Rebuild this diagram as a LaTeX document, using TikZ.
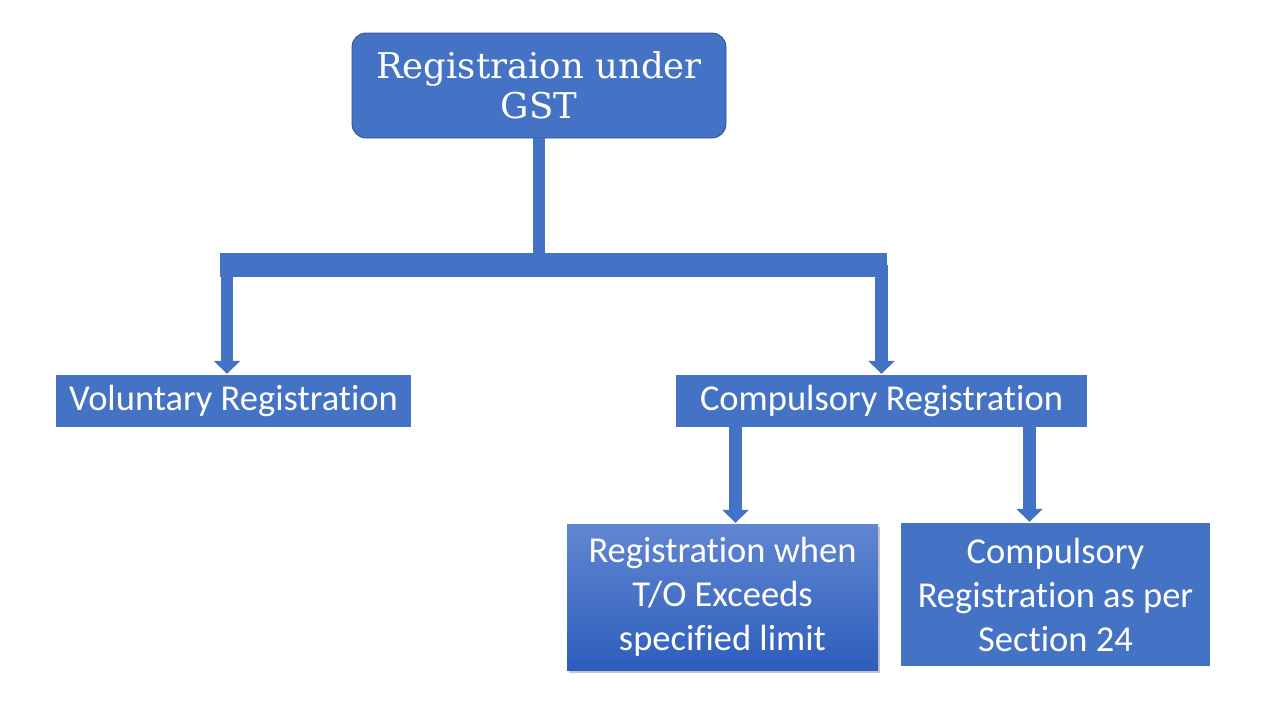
\documentclass[tikz,border=0pt]{standalone}
\usepackage{fontspec}
\setsansfont{Carlito}[Ligatures=NoCommon]
\newfontfamily\headfont{DejaVu Serif}
\usetikzlibrary{arrows.meta,shadows}
\definecolor{gstblue}{HTML}{4472C4}
\definecolor{gstedge}{HTML}{2F528F}
\definecolor{gsttop}{HTML}{6186D1}
\definecolor{gstbot}{HTML}{2E5EBD}

\begin{document}
\begin{tikzpicture}[x=1pt,y=-1pt,
	box/.style={fill=gstblue,text=white,font=\sffamily\fontsize{36.5}{44}\selectfont,align=center,inner sep=0pt},
	bar/.style={gstblue,line width=12.5pt},
	arr/.style={gstblue,line width=12.5pt,-{Triangle[width=26pt,length=13pt]},shorten >=1pt}]
	\useasboundingbox (0,0) rectangle (1280,720);

	\node[box,draw=gstedge,line width=0.8pt,rounded corners=14pt,minimum width=374pt,minimum height=105pt,
		font=\headfont\fontsize{35.5}{40}\selectfont] (top) at (539,85.5) {Registraion under\\GST};
	\node[box,minimum width=355pt,minimum height=52pt] (vol) at (233.5,401) {Voluntary Registration};
	\node[box,minimum width=411pt,minimum height=52pt] (comp) at (881.5,401) {Compulsory Registration};
	\node[box,top color=gsttop,bottom color=gstbot,drop shadow={shadow xshift=2pt,shadow yshift=-3pt,opacity=.45},
		minimum width=311pt,minimum height=146pt] (turn) at (722.5,597) {Registration when\\T/O Exceeds\\specified limit};
	\node[box,minimum width=309pt,minimum height=143pt] (sec) at (1055.5,594.5) {Compulsory\\Registration as per\\Section 24};

	% bus under the top box
	\coordinate (busL) at (220,265);
	\coordinate (busR) at (887,265);
	\coordinate (dropL) at (227,265);
	\draw[gstblue,line width=24pt] (busL) -- (busR);
	\draw[bar] (top.south) -- (top.south |- busL);
	\draw[arr] (dropL) -- (dropL |- vol.north);
	\draw[arr] (comp.north |- busR) -- (comp.north);

	\coordinate (aL) at (735.5,0);
	\coordinate (aR) at (1029.5,0);
	\draw[arr] (comp.south -| aL) -- (turn.north -| aL);
	\draw[arr] (comp.south -| aR) -- (sec.north -| aR);
\end{tikzpicture}
\end{document}
